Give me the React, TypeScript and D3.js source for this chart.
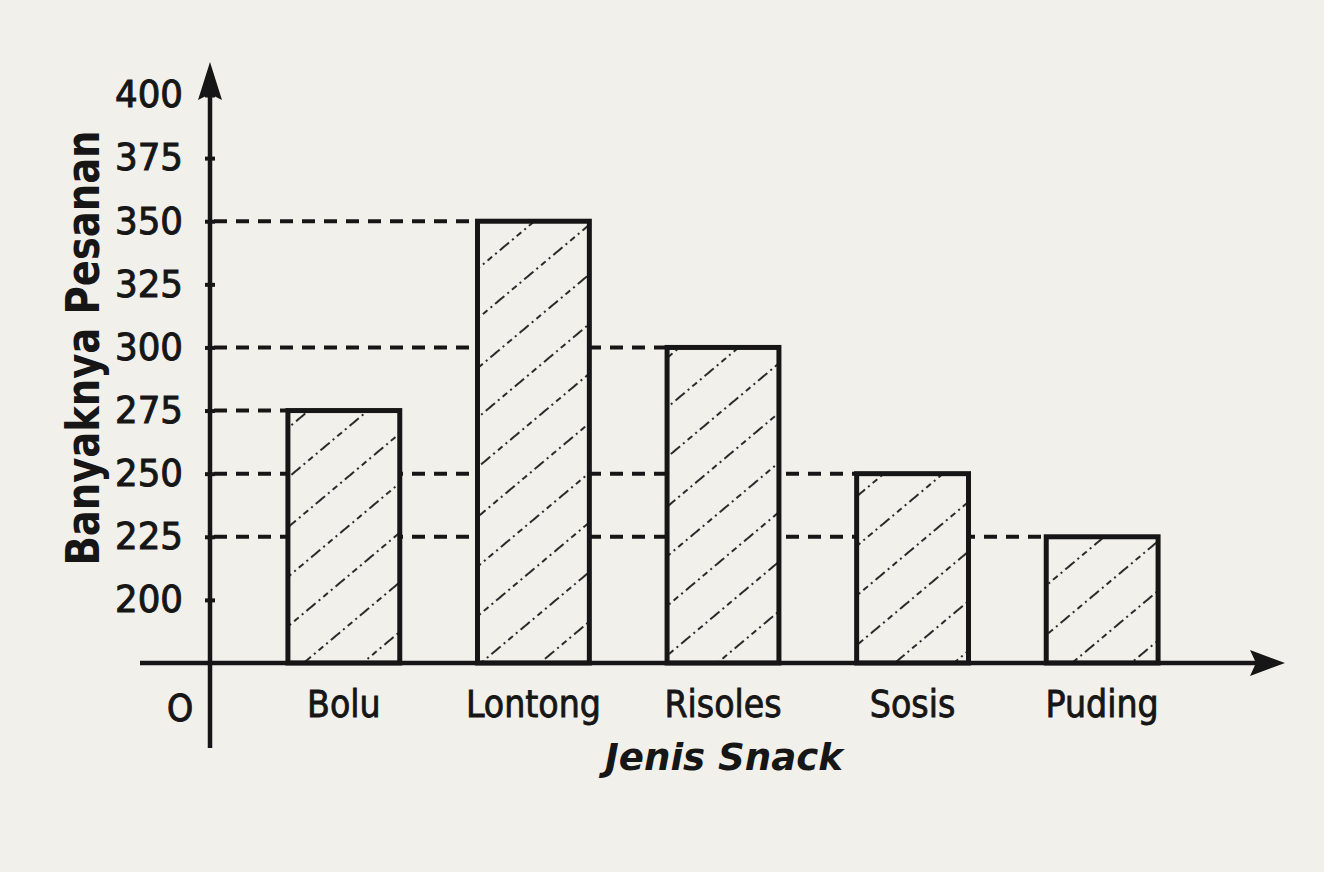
import React, { useEffect, useRef } from "react";
import * as d3 from "d3";

const categories = ["Bolu", "Lontong", "Risoles", "Sosis", "Puding"];
const values = [275, 350, 300, 250, 225];
const yTicks = [200, 225, 250, 275, 300, 325, 350, 375, 400];

const W = 1324;
const H = 872;
const INK = "#161616";
const PAPER = "#f2f0eb";
const FONT = "'DejaVu Sans Condensed', 'Liberation Sans Narrow', 'DejaVu Sans', sans-serif";

const App = () => {
  const svgRef = useRef<SVGSVGElement>(null);

  useEffect(() => {
    document.body.style.margin = "0";
    const svg = d3.select(svgRef.current);
    svg.selectAll("*").remove();

    const axisX = 210;
    const baseY = 663;

    // broken axis: the gap between O and 200 is drawn as one step
    const y = d3.scaleLinear().domain([175, 400]).range([baseY, 95]);
    const x = d3.scaleBand<string>()
      .domain(categories)
      .range([250, 1196])
      .paddingInner(0.41)
      .paddingOuter(0.2);

    svg.append("rect").attr("width", W).attr("height", H).attr("fill", PAPER);

    const defs = svg.append("defs");
    const pat = defs.append("pattern")
      .attr("id", "hatch")
      .attr("patternUnits", "userSpaceOnUse")
      .attr("width", 38)
      .attr("height", 38)
      .attr("patternTransform", "rotate(-40)");
    pat.append("line")
      .attr("x1", 0).attr("x2", 38)
      .attr("y1", 19).attr("y2", 19)
      .attr("stroke", "#2a2a2a")
      .attr("stroke-width", 2)
      .attr("stroke-dasharray", "6 4 2 4");

    const data = categories.map((c, i) => ({ c, v: values[i] }));

    // Guide lines from the axis to each bar top
    svg.append("g").selectAll("line")
      .data(data)
      .enter()
      .append("line")
      .attr("x1", axisX + 4)
      .attr("x2", d => x(d.c)!)
      .attr("y1", d => y(d.v))
      .attr("y2", d => y(d.v))
      .attr("stroke", INK)
      .attr("stroke-width", 4)
      .attr("stroke-dasharray", "13 9");

    // Bars
    const bars = svg.append("g");
    bars.selectAll(".bg")
      .data(data)
      .enter()
      .append("rect")
      .attr("x", d => x(d.c)!)
      .attr("y", d => y(d.v))
      .attr("width", x.bandwidth())
      .attr("height", d => baseY - y(d.v))
      .attr("fill", PAPER);
    bars.selectAll(".bar")
      .data(data)
      .enter()
      .append("rect")
      .attr("x", d => x(d.c)!)
      .attr("y", d => y(d.v))
      .attr("width", x.bandwidth())
      .attr("height", d => baseY - y(d.v))
      .attr("fill", "url(#hatch)")
      .attr("stroke", INK)
      .attr("stroke-width", 5);

    // Axes
    svg.append("line")
      .attr("x1", 140).attr("x2", 1262)
      .attr("y1", baseY).attr("y2", baseY)
      .attr("stroke", INK).attr("stroke-width", 4.5);
    svg.append("path")
      .attr("d", `M1285,${baseY} L1250,${baseY - 13} L1256,${baseY} L1250,${baseY + 13} Z`)
      .attr("fill", INK);

    svg.append("line")
      .attr("x1", axisX).attr("x2", axisX)
      .attr("y1", 90).attr("y2", 748)
      .attr("stroke", INK).attr("stroke-width", 4.5);
    svg.append("path")
      .attr("d", `M${axisX},62 L${axisX - 12},100 L${axisX},94 L${axisX + 12},100 Z`)
      .attr("fill", INK);

    svg.append("g")
      .attr("transform", `translate(${axisX},0)`)
      .call(d3.axisLeft(y).tickValues(yTicks).tickSize(7).tickPadding(20).tickFormat(d3.format("d")))
      .call(g => g.select(".domain").remove())
      .call(g => g.selectAll(".tick line")
        .attr("x2", 5).attr("x1", -5)
        .attr("stroke", INK).attr("stroke-width", 4))
      .call(g => g.selectAll(".tick text")
        .attr("fill", INK)
        .attr("stroke", INK)
        .attr("stroke-width", 0.9)
        .style("font-family", FONT)
        .style("font-size", "37px")
        .attr("textLength", 68)
        .attr("lengthAdjust", "spacingAndGlyphs"));

    // Category labels
    svg.append("g").selectAll("text")
      .data(data)
      .enter()
      .append("text")
      .attr("x", d => x(d.c)! + x.bandwidth() / 2)
      .attr("y", 717)
      .attr("text-anchor", "middle")
      .attr("fill", INK)
      .attr("stroke", INK)
      .attr("stroke-width", 0.8)
      .style("font-family", FONT)
      .style("font-size", "37px")
      .text(d => d.c);

    svg.append("text")
      .attr("x", 180).attr("y", 721)
      .attr("text-anchor", "middle")
      .attr("fill", INK)
      .attr("stroke", INK)
      .attr("stroke-width", 1)
      .style("font-family", FONT)
      .style("font-size", "37px")
      .text("O");

    svg.append("text")
      .attr("x", 724).attr("y", 770)
      .attr("text-anchor", "middle")
      .attr("fill", INK)
      .style("font-family", FONT)
      .style("font-size", "38px")
      .style("font-weight", "bold")
      .style("font-style", "italic")
      .attr("textLength", 238)
      .attr("lengthAdjust", "spacingAndGlyphs")
      .text("Jenis Snack");

    svg.append("text")
      .attr("transform", "translate(99,348) rotate(-90)")
      .attr("text-anchor", "middle")
      .attr("fill", INK)
      .style("font-family", FONT)
      .style("font-size", "46px")
      .style("font-weight", "bold")
      .attr("textLength", 435)
      .attr("lengthAdjust", "spacingAndGlyphs")
      .text("Banyaknya Pesanan");
  }, []);

  return <svg ref={svgRef} width={W} height={H} style={{ display: "block" }} />;
};

export default App;
